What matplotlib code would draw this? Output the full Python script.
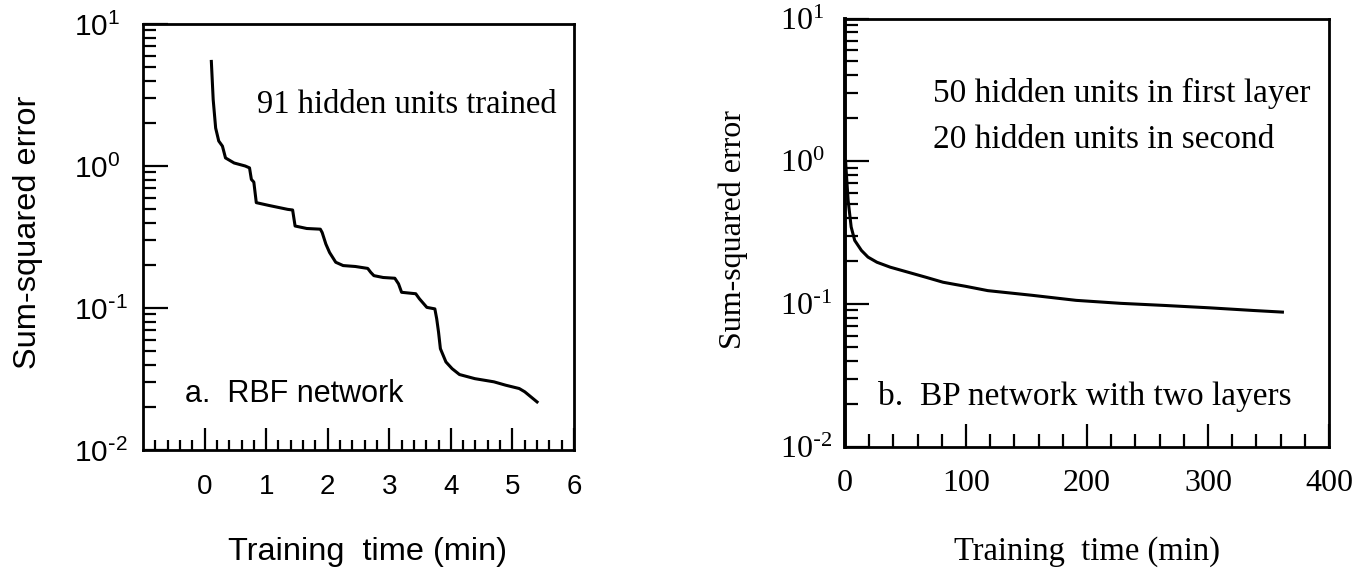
import math
import matplotlib
matplotlib.use('Agg')
import matplotlib.pyplot as plt
from matplotlib.ticker import FixedLocator, FuncFormatter, LogLocator, NullFormatter

# ---------------- data ----------------
rbf_time = [0.11, 0.14, 0.18, 0.23, 0.29, 0.34, 0.48, 0.66, 0.73, 0.76, 0.80, 0.84,
            1.04, 1.35, 1.43, 1.47, 1.66, 1.88, 1.91, 1.97, 2.03, 2.13, 2.25, 2.45,
            2.65, 2.70, 2.75, 2.90, 3.09, 3.15, 3.20, 3.43, 3.49, 3.61, 3.74, 3.77,
            3.80, 3.83, 3.92, 4.02, 4.14, 4.39, 4.70, 4.89, 5.11, 5.20, 5.40]
rbf_err = [5.45, 2.93, 1.85, 1.50, 1.38, 1.14, 1.05, 1.00, 0.97, 0.805, 0.77, 0.552,
           0.528, 0.495, 0.49, 0.378, 0.363, 0.359, 0.340, 0.282, 0.246, 0.210, 0.199, 0.196,
           0.190, 0.178, 0.169, 0.164, 0.162, 0.148, 0.129, 0.126, 0.116, 0.101, 0.0986, 0.084,
           0.0676, 0.0517, 0.0417, 0.0374, 0.0340, 0.0318, 0.0302, 0.0286, 0.0271, 0.0257, 0.0218]

bp_time = [0.5, 1, 2.6, 5.1, 8, 13.6, 19, 26.4, 37.4, 52, 66.7, 81, 91, 99.6, 118,
           154.6, 191, 228, 264.5, 301, 337.7, 361.5]
bp_err = [1.0, 0.85, 0.53, 0.346, 0.279, 0.237, 0.213, 0.196, 0.181, 0.167, 0.154, 0.142,
          0.137, 0.133, 0.124, 0.115, 0.106, 0.101, 0.0976, 0.094, 0.090, 0.0877]

left_xticks = [0, 1, 2, 3, 4, 5, 6]
right_xticks = [0, 100, 200, 300, 400]
y_decades = [-2, -1, 0, 1]

SANS = 'Liberation Sans'
SERIF = 'Liberation Serif'

fig = plt.figure(figsize=(13.72, 5.71), dpi=100)
axL = fig.add_axes([143/1372, 1-450/571, 431/1372, 426/571])
axR = fig.add_axes([845/1372, 1-446.7/571, 484/1372, 428.2/571])


def decade_fmt(v, pos):
    d = int(round(math.log10(v)))
    if d < 0:
        return r'$\mathregular{10^{\text{-}%d}}$' % (-d)
    return r'$\mathregular{10^{%d}}$' % d


def style_axis(ax, family, xmaj_len, xmin_len, ymaj_len, ymin_len, ypad, xpad, fs_y, fs_x):
    ax.set_yscale('log')
    ax.set_ylim(1e-2, 1e1)
    ax.yaxis.set_major_locator(FixedLocator([10.0**d for d in y_decades]))
    ax.yaxis.set_major_formatter(FuncFormatter(decade_fmt))
    ax.yaxis.set_minor_locator(LogLocator(base=10, subs=range(2, 10)))
    ax.yaxis.set_minor_formatter(NullFormatter())
    for s in ax.spines.values():
        s.set_linewidth(2.0)
    ax.tick_params(axis='y', which='major', direction='in', length=ymaj_len, width=1.6,
                   pad=ypad, labelsize=fs_y, right=False, left=True)
    ax.tick_params(axis='y', which='minor', direction='in', length=ymin_len, width=1.6,
                   right=False, left=True)
    ax.tick_params(axis='x', which='major', direction='in', length=xmaj_len, width=1.6,
                   pad=xpad, labelsize=fs_x, top=False, bottom=True)
    ax.tick_params(axis='x', which='minor', direction='in', length=xmin_len, width=1.6,
                   top=False, bottom=True)
    for lbl in ax.get_yticklabels():
        lbl.set_fontfamily(family)
        lbl.set_ha('left')
    for lbl in ax.get_xticklabels():
        lbl.set_fontfamily(family)


# ---------------- left panel: RBF ----------------
axL.plot(rbf_time, rbf_err, color='black', lw=2.2, solid_joinstyle='round')
axL.set_xlim(-1, 6)
axL.xaxis.set_major_locator(FixedLocator(left_xticks))
axL.xaxis.set_minor_locator(FixedLocator([round(-0.8 + 0.2*i, 1) for i in range(34)
                                          if abs(round(-0.8 + 0.2*i, 1) % 1) > 1e-6]))
style_axis(axL, SANS, 15.8, 7.2, 18, 9.4, 49.7, 17, 21.5, 20)
axL.set_xlabel('Training  time (min)', fontfamily=SANS, fontsize=23.4)
axL.xaxis.label.set_va('center')
axL.xaxis.set_label_coords(0.521, -0.2394)
axL.set_ylabel('Sum-squared error', fontfamily=SANS, fontsize=23.4)
axL.yaxis.label.set_va('center')
axL.yaxis.set_label_coords(-0.267, 0.512)
axL.text(0.9606, 0.7918, '91 hidden units trained', transform=axL.transAxes,
         ha='right', va='baseline', fontfamily=SERIF, fontsize=23.5)
axL.text(0.0974, 0.1134, 'a.  RBF network', transform=axL.transAxes,
         ha='left', va='baseline', fontfamily=SANS, fontsize=22)

# ---------------- right panel: BP ----------------
axR.plot(bp_time, bp_err, color='black', lw=2.2, solid_joinstyle='round')
axR.set_xlim(0, 400)
axR.xaxis.set_major_locator(FixedLocator(right_xticks))
axR.xaxis.set_minor_locator(FixedLocator([v for v in range(20, 400, 20) if v % 100]))
style_axis(axR, SERIF, 16.6, 9.4, 17.3, 9.4, 46.8, 16, 23, 23)
axR.spines['left'].set_linewidth(2.8)
axR.set_xlabel('Training  time (min)', fontfamily=SERIF, fontsize=23.5)
axR.xaxis.label.set_va('center')
axR.xaxis.set_label_coords(0.5, -0.246)
axR.set_ylabel('Sum-squared error', fontfamily=SERIF, fontsize=23)
axR.yaxis.label.set_va('center')
axR.yaxis.set_label_coords(-0.231, 0.506)
axR.text(0.1818, 0.8057, '50 hidden units in first layer', transform=axR.transAxes,
         ha='left', va='baseline', fontfamily=SERIF, fontsize=24)
axR.text(0.1818, 0.6976, '20 hidden units in second', transform=axR.transAxes,
         ha='left', va='baseline', fontfamily=SERIF, fontsize=24)
axR.text(0.0688, 0.0974, 'b.  BP network with two layers', transform=axR.transAxes,
         ha='left', va='baseline', fontfamily=SERIF, fontsize=24)

fig.savefig('out.png', dpi=100)
